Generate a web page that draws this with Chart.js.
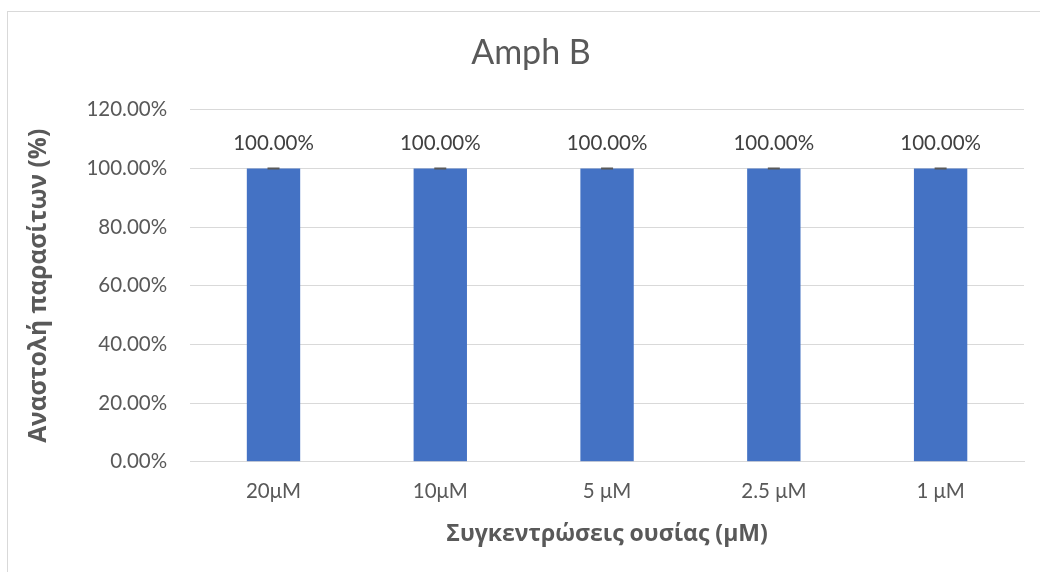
<!DOCTYPE html>
<html>
<head>
<meta charset="utf-8">
<script src="https://cdn.jsdelivr.net/npm/chart.js@4.4.1/dist/chart.umd.min.js"></script>
<style>
  html, body { margin: 0; padding: 0; background: #fff; overflow: hidden; }
  #wrap { position: relative; width: 1040px; height: 572px; }
  #frame { position: absolute; left: 7px; top: 11px; width: 1100px; height: 700px; border: 1px solid #d9d9d9; box-sizing: border-box; }
  canvas { position: absolute; left: 0; top: 0; }
</style>
</head>
<body>
<div id="wrap">
  <div id="frame"></div>
  <canvas id="myChart" width="1040" height="572"></canvas>
</div>
<script>
// chart data
const categories = ["20μM", "10μM", "5 μM", "2.5 μM", "1 μM"];
const inhibition = [1.0, 1.0, 1.0, 1.0, 1.0];
const errors = [0, 0, 0, 0, 0];
const yTicks = [0, 0.2, 0.4, 0.6, 0.8, 1.0, 1.2];

const FONT = "Lato, 'Open Sans', sans-serif";
const TITLE_FONT = "'Open Sans', sans-serif";
const GREY = "#595959";

function pct(v) {
  return (v * 100).toFixed(2) + "%";
}

// draws the little error caps and the value labels above each bar
const barExtras = {
  id: "barExtras",
  afterLayout(chart) {
    // nudge the chart title a bit to the right, like the original
    if (chart.titleBlock) chart.titleBlock.left += 14;
  },
  afterDatasetsDraw(chart) {
    const ctx = chart.ctx;
    const meta = chart.getDatasetMeta(0);
    const y = chart.scales.y;
    ctx.save();
    meta.data.forEach((bar, i) => {
      const v = inhibition[i];
      const top = y.getPixelForValue(v + errors[i]);
      const bottom = y.getPixelForValue(v - errors[i]);
      ctx.strokeStyle = "#595959";
      ctx.lineWidth = 2;
      ctx.beginPath();
      ctx.moveTo(bar.x, top);
      ctx.lineTo(bar.x, bottom);
      ctx.moveTo(bar.x - 6, top);
      ctx.lineTo(bar.x + 6, top);
      ctx.moveTo(bar.x - 6, bottom);
      ctx.lineTo(bar.x + 6, bottom);
      ctx.stroke();

      ctx.fillStyle = "#404040";
      ctx.font = "20.5px " + FONT;
      ctx.textAlign = "center";
      ctx.textBaseline = "middle";
      ctx.fillText(pct(v), bar.x, top - 25);
    });
    ctx.restore();
  }
};

const ctx = document.getElementById("myChart").getContext("2d");
new Chart(ctx, {
  type: "bar",
  data: {
    labels: categories,
    datasets: [{
      data: inhibition,
      backgroundColor: "#4472c4",
      borderWidth: 0,
      barPercentage: 0.32,
      categoryPercentage: 1.0
    }]
  },
  options: {
    responsive: false,
    animation: false,
    layout: { padding: { left: 24, right: 16, top: 18, bottom: 24 } },
    plugins: {
      legend: { display: false },
      tooltip: { enabled: false },
      title: {
        display: true,
        text: "Amph B",
        color: GREY,
        font: { family: FONT, size: 34, weight: "normal" },
        padding: { top: 15, bottom: 36 }
      }
    },
    scales: {
      x: {
        grid: { display: false, drawTicks: false },
        border: { color: "#d9d9d9", width: 1 },
        ticks: { color: GREY, font: { family: FONT, size: 20.5 }, padding: 17 },
        title: {
          display: true,
          text: "Συγκεντρώσεις ουσίας (μΜ)",
          color: GREY,
          font: { family: TITLE_FONT, size: 23, weight: "bold" },
          padding: { top: 0, bottom: 0 }
        }
      },
      y: {
        min: 0,
        max: 1.2,
        afterBuildTicks(axis) {
          axis.ticks = yTicks.map(v => ({ value: v }));
        },
        grid: { color: "#d9d9d9", drawTicks: false },
        border: { display: false },
        ticks: {
          color: GREY,
          font: { family: FONT, size: 20.5 },
          padding: 23,
          callback: v => pct(v)
        },
        title: {
          display: true,
          text: "Αναστολή παρασίτων (%)",
          color: GREY,
          font: { family: TITLE_FONT, size: 24.5, weight: "bold" },
          padding: { top: 0, bottom: 10 }
        }
      }
    }
  },
  plugins: [barExtras]
});
</script>
</body>
</html>
